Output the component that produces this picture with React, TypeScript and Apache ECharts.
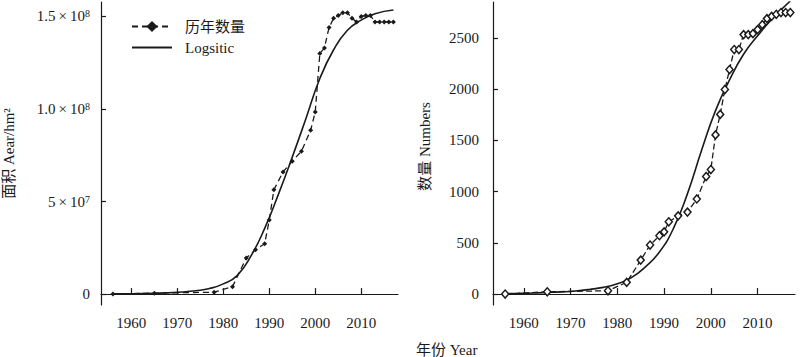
import React, { useEffect, useRef } from "react";
import * as echarts from "echarts";

// ---- data ----
const dataYears = [1956, 1965, 1978, 1982, 1985, 1987, 1989, 1990, 1991, 1993, 1995, 1997, 1999, 2000, 2001, 2002, 2003, 2004, 2005, 2006, 2007, 2008, 2009, 2010, 2011, 2012, 2013, 2014, 2015, 2016, 2017];
const areaValues = [0, 5e5, 1e6, 4e6, 1.95e7, 2.4e7, 2.72e7, 4.0e7, 5.63e7, 6.6e7, 7.18e7, 7.72e7, 8.85e7, 9.84e7, 1.3e8, 1.33e8, 1.44e8, 1.49e8, 1.505e8, 1.52e8, 1.52e8, 1.49e8, 1.47e8, 1.5e8, 1.505e8, 1.505e8, 1.47e8, 1.47e8, 1.47e8, 1.47e8, 1.47e8];
const countValues = [0, 22, 32, 114, 331, 478, 569, 607, 705, 763, 800, 928, 1147, 1215, 1553, 1753, 1996, 2191, 2386, 2386, 2532, 2532, 2541, 2581, 2629, 2688, 2710, 2730, 2747, 2747, 2747];

const areaFitYears = [1956, 1959, 1962, 1965, 1968, 1971, 1974, 1977, 1980, 1983, 1986, 1989, 1992, 1995, 1998, 2001, 2004, 2007, 2010, 2013, 2017];
const areaFitValues = [1e5, 1.5e5, 2.5e5, 4e5, 7e5, 1.1e6, 1.8e6, 3e6, 5.5e6, 1.0e7, 2.05e7, 3.55e7, 5.4e7, 7.4e7, 9.5e7, 1.165e8, 1.32e8, 1.425e8, 1.48e8, 1.515e8, 1.535e8];

const countFitYears = [1956, 1959, 1962, 1965, 1968, 1971, 1974, 1977, 1980, 1983, 1986, 1989, 1992, 1995, 1998, 2001, 2004, 2007, 2010, 2013, 2017];
const countFitValues = [5, 7, 10, 15, 21, 30, 45, 65, 100, 160, 265, 410, 640, 980, 1400, 1790, 2090, 2340, 2520, 2680, 2860];

const xTicks = [1960, 1970, 1980, 1990, 2000, 2010];
const leftYTicks = [0, 5e7, 1e8, 1.5e8];
const leftYTickLabels = ["0", "5{x|×}10{s|7}", "1.0{x|×}10{s|8}", "1.5{x|×}10{s|8}"];
const rightYTicks = [0, 500, 1000, 1500, 2000, 2500];

const legendNames = ["历年数量", "Logsitic"];
const leftYName = "面积 Aear/hm²";
const rightYName = "数量 Numbers";
const xName = "年份 Year";

const FONT = "'Liberation Serif', 'Times New Roman', 'Noto Sans CJK SC', serif";
const INK = "#1a1a1a";

export default function App() {
  const ref = useRef<HTMLDivElement>(null);
  useEffect(() => {
    if (!ref.current) return;
    const chart = echarts.init(ref.current, undefined, { renderer: "svg" });
    const axisCommon = {
      axisLine: { show: true, lineStyle: { color: INK, width: 1.2 } },
      splitLine: { show: false },
    };
    const xAxisFor = (gridIndex: number) => ({
      type: "value",
      gridIndex,
      min: 1953.4,
      max: 2018,
      ...axisCommon,
      axisTick: { show: true, inside: true, length: 6, customValues: xTicks, lineStyle: { color: INK, width: 1.2 } },
      axisLabel: {
        customValues: xTicks,
        color: INK,
        fontFamily: FONT,
        fontSize: 15,
        margin: 10,
        formatter: (v: number) => String(v),
      },
    });
    const option = {
      animation: false,
      backgroundColor: "#fff",
      grid: [
        { left: 101, top: 2, width: 297, bottom: 52 },
        { left: 493, top: 2, right: 5, bottom: 52 },
      ],
      legend: {
        data: [{ name: legendNames[0] }, { name: legendNames[1], itemStyle: { opacity: 0 } }],
        orient: "vertical",
        left: 126,
        top: 14,
        itemWidth: 40,
        itemHeight: 14,
        itemGap: 6,
        textStyle: { color: INK, fontFamily: FONT, fontSize: 15, padding: [0, 0, 0, 8] },
      },
      xAxis: [xAxisFor(0), xAxisFor(1)],
      yAxis: [
        {
          type: "value",
          gridIndex: 0,
          min: -5.9e6,
          max: 1.578e8,
          ...axisCommon,
          axisTick: { show: true, inside: true, length: 5, customValues: leftYTicks, lineStyle: { color: INK, width: 1.2 } },
          axisLabel: {
            customValues: leftYTicks,
            margin: 11,
            color: INK,
            fontFamily: FONT,
            fontSize: 15,
            formatter: (v: number) => {
              const i = leftYTicks.indexOf(v);
              return i >= 0 ? leftYTickLabels[i] : "";
            },
            rich: {
              x: { fontFamily: FONT, fontSize: 15, color: INK, padding: [0, 3, 0, 3] },
              s: { fontFamily: FONT, fontSize: 10, color: INK, verticalAlign: "top", lineHeight: 10 },
            },
          },
          name: leftYName,
          nameLocation: "middle",
          nameGap: 85,
          nameTextStyle: { color: INK, fontFamily: FONT, fontSize: 15 },
        },
        {
          type: "value",
          gridIndex: 1,
          min: -107,
          max: 2850,
          ...axisCommon,
          axisTick: { show: true, inside: true, length: 5, customValues: rightYTicks, lineStyle: { color: INK, width: 1.2 } },
          axisLabel: {
            customValues: rightYTicks,
            margin: 14,
            color: INK,
            fontFamily: FONT,
            fontSize: 15,
            formatter: (v: number) => String(v),
          },
          name: rightYName,
          nameLocation: "middle",
          nameGap: 61,
          nameTextStyle: { color: INK, fontFamily: FONT, fontSize: 15, padding: [0, 0, 0, 14] },
        },
      ],
      graphic: [
        {
          type: "text",
          left: 416,
          top: 342,
          style: { text: xName, fill: INK, font: `15px ${FONT}` },
        },
      ],
      series: [
        {
          name: legendNames[0],
          type: "line",
          xAxisIndex: 0,
          yAxisIndex: 0,
          data: dataYears.map((y, i) => [y, areaValues[i]]),
          symbol: "diamond",
          symbolSize: 5,
          itemStyle: { color: INK },
          lineStyle: { color: INK, width: 1.3, type: [6, 4] },
          z: 3,
        },
        {
          name: legendNames[1],
          type: "line",
          xAxisIndex: 0,
          yAxisIndex: 0,
          data: areaFitYears.map((y, i) => [y, areaFitValues[i]]),
          symbol: "none",
          smooth: 0.5,
          itemStyle: { color: INK },
          lineStyle: { color: INK, width: 1.6 },
          z: 2,
        },
        {
          name: "数量",
          type: "line",
          xAxisIndex: 1,
          yAxisIndex: 1,
          data: dataYears.map((y, i) => [y, countValues[i]]),
          symbol: "diamond",
          symbolSize: [7, 8],
          itemStyle: { color: "#fff", borderColor: INK, borderWidth: 1.5 },
          lineStyle: { color: INK, width: 1.3, type: [6, 3] },
          z: 3,
        },
        {
          name: "Logistic2",
          type: "line",
          xAxisIndex: 1,
          yAxisIndex: 1,
          data: countFitYears.map((y, i) => [y, countFitValues[i]]),
          symbol: "none",
          smooth: 0.5,
          itemStyle: { color: INK },
          lineStyle: { color: INK, width: 1.6 },
          z: 2,
        },
      ],
    };
    chart.setOption(option as any);
    return () => chart.dispose();
  }, []);
  return (
    <div
      ref={ref}
      style={{ position: "absolute", left: 0, top: 0, width: 800, height: 357, background: "#fff" }}
    />
  );
}
